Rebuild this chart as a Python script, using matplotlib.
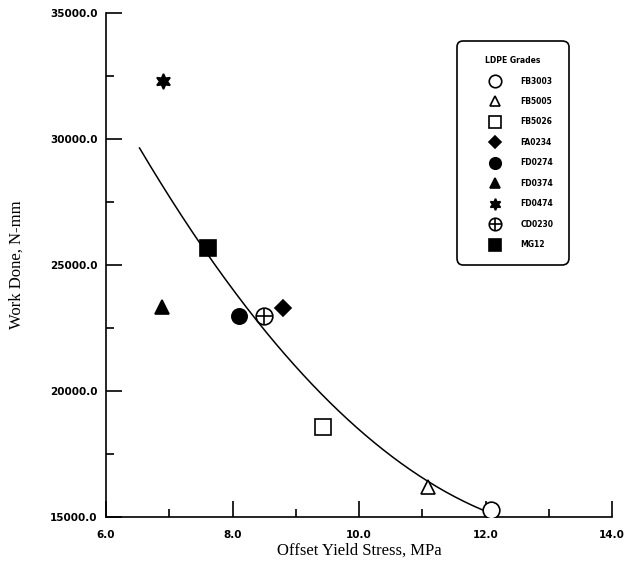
import numpy as np
import matplotlib
matplotlib.use("Agg")
import matplotlib.pyplot as plt
from matplotlib.legend_handler import HandlerTuple

# ── DATA ──────────────────────────────────────────────────────────────────
grades       = ['FB3003', 'FB5005', 'FB5026', 'FA0234', 'FD0274',
                'FD0374', 'FD0474', 'CD0230', 'MG12']
yield_stress = [12.09, 11.09, 9.43, 8.80, 8.10, 6.89, 6.90, 8.50, 7.61]
work_done    = [15280, 16190, 18570, 23300, 22980, 23350, 32300, 22980, 25680]

# points
curve_x = [6.53, 7.62, 8.12, 8.44, 8.75, 9.81, 11.01, 12.04, 12.13]
curve_y = [29680, 25680, 23330, 22420, 21550, 19250, 16590, 15200, 15000]

x_ticks = [6.0, 8.0, 10.0, 12.0, 14.0]
y_ticks = [15000, 20000, 25000, 30000, 35000]

# ── STYLES ────────────────────────────────────────────────────────────────
# (marker, filled, size)
styles = {
    'FB3003': ('o', False, 12),
    'FB5005': ('^', False, 10),
    'FB5026': ('s', False, 12),
    'FA0234': ('D', True, 8.5),
    'FD0274': ('o', True, 11),
    'FD0374': ('^', True, 10),
    'FD0474': ((6, 1, 0), True, 11),
    'CD0230': ('o', False, 12),
    'MG12':   ('s', True, 12),
}

W, H = 626, 570
fig = plt.figure(figsize=(W / 100, H / 100), dpi=100)
ax_l, ax_r, ax_t, ax_b = 106, 612, 13, 517
ax = fig.add_axes([ax_l / W, 1 - ax_b / H, (ax_r - ax_l) / W, (ax_b - ax_t) / H])

# ── TREND LINE ────────────────────────────────────────────────────────────
coef = np.polyfit(curve_x, curve_y, 2)
xs = np.linspace(curve_x[0], curve_x[-1], 200)
ax.plot(xs, np.polyval(coef, xs), color='black', lw=1.1, zorder=2)

# ── SCATTER ───────────────────────────────────────────────────────────────
handles = []
for g, x, y in zip(grades, yield_stress, work_done):
    m, filled, ms = styles[g]
    h, = ax.plot([x], [y], linestyle='none', marker=m, ms=ms,
                 mfc='black' if filled else 'white', mec='black', mew=1.2,
                 zorder=3)
    if g == 'CD0230':
        h2, = ax.plot([x], [y], linestyle='none', marker='+', ms=ms - 1,
                      mec='black', mew=1.2, zorder=4)
        handles.append((h, h2))
    else:
        handles.append(h)

# ── AXES ──────────────────────────────────────────────────────────────────
ax.set_xlim(6.0, 14.0)
ax.set_ylim(15000, 35000)
ax.set_xticks(x_ticks)
ax.set_yticks(y_ticks)
ax.set_xticks([7, 9, 11, 13], minor=True)
ax.set_yticks([17500, 22500, 27500, 32500], minor=True)
ax.set_xticklabels([f"{v:.1f}" for v in x_ticks])
ax.set_yticklabels([f"{v:.1f}" for v in y_ticks])

for s in ['top', 'right']:
    ax.spines[s].set_visible(False)
for s in ['left', 'bottom']:
    ax.spines[s].set_linewidth(1.2)

ax.tick_params(which='both', direction='in', width=1.2, color='black')
ax.tick_params(which='major', length=11.5)
ax.tick_params(which='minor', length=5.8)
ax.tick_params(axis='x', which='major', pad=9)
ax.tick_params(axis='y', which='major', pad=6)
for lab in ax.get_xticklabels() + ax.get_yticklabels():
    lab.set_fontfamily('DejaVu Sans')
    lab.set_fontweight('bold')
    lab.set_fontsize(7.5)

ax.set_xlabel("Offset Yield Stress, MPa", family='Liberation Serif', fontsize=12)
ax.set_ylabel("Work Done, N-mm", family='Liberation Serif', fontsize=12)
ax.xaxis.set_label_coords(0.5, (ax_b - 543) / (ax_b - ax_t))
ax.yaxis.set_label_coords((25 - ax_l) / (ax_r - ax_l), 0.5)

# ── LEGEND ────────────────────────────────────────────────────────────────
leg = ax.legend(handles, grades, title="LDPE Grades",
                handler_map={tuple: HandlerTuple(ndivide=1, pad=0)},
                loc='upper left',
                bbox_to_anchor=((453 - ax_l) / (ax_r - ax_l),
                                (ax_b - 37) / (ax_b - ax_t)),
                prop={'family': 'DejaVu Sans', 'weight': 'bold', 'size': 5.5},
                title_fontproperties={'family': 'DejaVu Sans', 'weight': 'bold',
                                      'size': 5.5},
                markerscale=0.75, frameon=True, fancybox=True,
                borderpad=2.0, handlelength=6, handletextpad=0.3,
                labelspacing=1.5, framealpha=1)
frame = leg.get_frame()
frame.set_edgecolor('black')
frame.set_linewidth(1.2)
frame.set_boxstyle('round', pad=0, rounding_size=0.8)

fig.savefig("out.png", dpi=100)
